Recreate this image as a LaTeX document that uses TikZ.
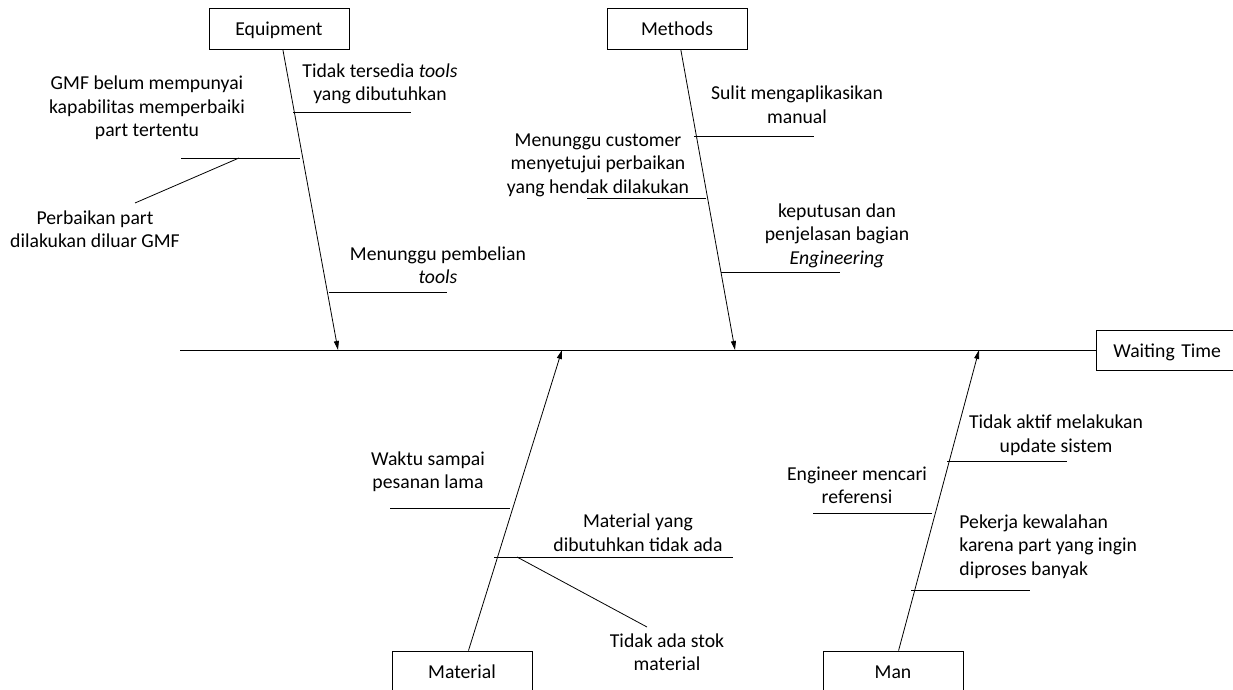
\documentclass[tikz,border=0pt]{standalone}
\usepackage{fontspec}
\setmainfont{Carlito}
\usetikzlibrary{arrows.meta}
\begin{document}
\begin{tikzpicture}[x=1pt,y=-1pt,line width=0.8pt,
    catbox/.style={draw,minimum width=140pt,minimum height=41pt,inner sep=0pt,text height=14pt,text depth=0pt},
    cause/.style={align=center,inner sep=0pt},
    bone/.style={-{Triangle[length=9pt,width=5pt]}}]
      \clip (0,0) rectangle (1233,690);
      \fontsize{19.7}{23.5}\selectfont
      \draw
        (279,28.5) node[catbox] (equip){Equipment}
        (677,28.5) node[catbox] (methods){Methods}
        (462,671.5) node[catbox] (material){Material}
        (893,671.5) node[catbox] (man){Man}
        (1096,350) node[catbox,anchor=west,minimum width=0pt,minimum height=40pt,
          inner xsep=17pt,text width=180pt,align=left] (effect){Waiting Time};
      \coordinate (head) at (180,350);
      \coordinate (eqhead) at (338,350);
      \coordinate (mehead) at (735,350);
      \coordinate (mahead) at (562,350);
      \coordinate (mnhead) at (979,350);
      \draw (head) -- (effect);
      \draw[bone] (equip) -- (eqhead);
      \draw[bone] (methods) -- (mehead);
      \draw[bone] (material) -- (mahead);
      \draw[bone] (man) -- (mnhead);
      % equipment
      \node[cause] (c1) at (380,84) {Tidak tersedia \textit{tools}\\yang dibutuhkan};
      \node[cause] (c2) at (147,108) {GMF belum mempunyai\\kapabilitas memperbaiki\\part tertentu};
      \node[cause] (c3) at (95,229) {Perbaikan part\\dilakukan diluar GMF};
      \node[cause] (c4) at (438,265) {Menunggu pembelian\\\textit{tools}};
      % methods
      \node[cause] (c5) at (797,104.5) {Sulit mengaplikasikan\\manual};
      \node[cause] (c6) at (598,165) {Menunggu customer\\menyetujui perbaikan\\yang hendak dilakukan};
      \node[cause] (c7) at (837,235.5) {keputusan dan\\penjelasan bagian\\\textit{Engineering}};
      % material
      \node[cause] (c8) at (428,471.5) {Waktu sampai\\pesanan lama};
      \node[cause] (c9) at (638,532.5) {Material yang\\dibutuhkan tidak ada};
      \node[cause] (c10) at (667,652) {Tidak ada stok\\material};
      % man
      \node[cause] (c11) at (1056,435) {Tidak aktif melakukan\\update sistem};
      \node[cause] (c12) at (857,485.5) {Engineer mencari\\referensi};
      \node[cause,align=left,anchor=west] (c13) at (959,546.5) {Pekerja kewalahan\\karena part yang ingin\\diproses banyak};
      \begin{scope}[-]
        \draw (293,112) -- (411,112);
        \draw (181,158) -- (300,158);
        \draw (239,158) coordinate (s2) -- (135,203) coordinate (s3);
        \draw (329,292) -- (447,292);
        \draw (694,136) -- (814,136);
        \draw (587,198) -- (706,198);
        \draw (721,272) -- (840,272);
        \draw (390,508) -- (510,508);
        \draw (494,557) -- (733,557);
        \draw (517,557) coordinate (s9) -- (647,627) coordinate (s10);
        \draw (947,461) -- (1067,461);
        \draw (813,513) -- (932,513);
        \draw (911,590) -- (1030,590);
      \end{scope}
    \end{tikzpicture}
\end{document}
